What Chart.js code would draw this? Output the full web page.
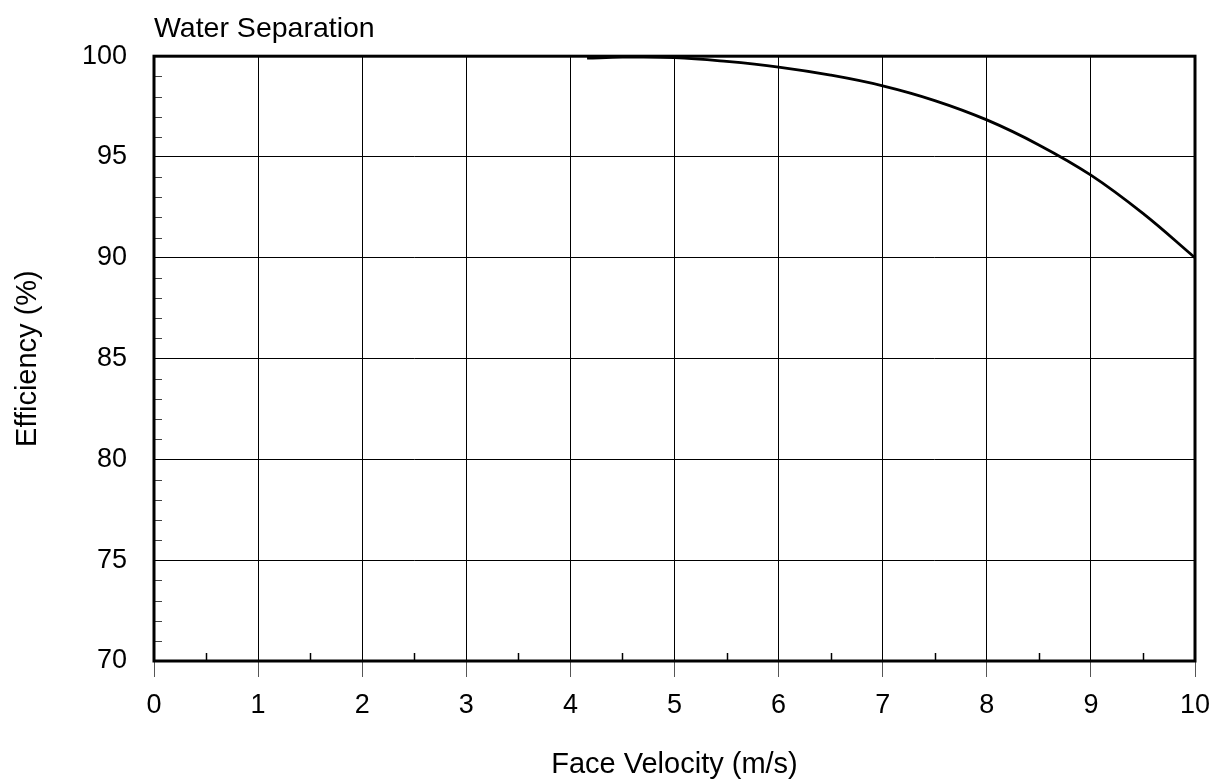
<!DOCTYPE html>
<html>
<head>
<meta charset="utf-8">
<script src="https://cdn.jsdelivr.net/npm/chart.js@4.4.1/dist/chart.umd.min.js"></script>
<style>
  html, body { margin: 0; padding: 0; background: #fff; }
  #wrap { width: 1216px; height: 783px; }
</style>
</head>
<body>
<div id="wrap"><canvas id="grafica" width="1216" height="783"></canvas></div>
<script>
// datos
const velocidad = [4.16, 4.5, 5, 5.5, 6, 6.5, 7, 7.5, 8, 8.5, 9, 9.5, 10];
const eficiencia = [99.9, 99.95, 99.93, 99.74, 99.46, 99.06, 98.53, 97.8, 96.84, 95.6, 94.1, 92.2, 90.0];
const xTicks = [0, 1, 2, 3, 4, 5, 6, 7, 8, 9, 10];
const yTicks = [70, 75, 80, 85, 90, 95, 100];
const xMinor = [0.5, 1.5, 2.5, 3.5, 4.5, 5.5, 6.5, 7.5, 8.5, 9.5];
const yMinor = [71, 72, 73, 74, 76, 77, 78, 79, 81, 82, 83, 84, 86, 87, 88, 89, 91, 92, 93, 94, 96, 97, 98, 99];

const fuente = "'Liberation Sans', Arial, sans-serif";

// marco grueso y las rayitas chicas
const marcoPlugin = {
    id: 'marco',
    afterDraw(chart) {
        const ctx = chart.ctx;
        const a = chart.chartArea;
        const sx = chart.scales.x;
        const sy = chart.scales.y;
        ctx.save();
        ctx.strokeStyle = '#000';
        ctx.lineWidth = 1.5;
        xMinor.forEach(v => {
            const px = Math.round(sx.getPixelForValue(v)) + 0.5;
            ctx.beginPath();
            ctx.moveTo(px, a.bottom);
            ctx.lineTo(px, a.bottom - 8);
            ctx.stroke();
        });
        ctx.lineWidth = 1;
        ctx.strokeStyle = '#444';
        yMinor.forEach(v => {
            const py = Math.round(sy.getPixelForValue(v)) + 0.5;
            ctx.beginPath();
            ctx.moveTo(a.left, py);
            ctx.lineTo(a.left + 8, py);
            ctx.stroke();
        });
        ctx.strokeStyle = '#000';
        ctx.lineWidth = 3;
        ctx.strokeRect(a.left, a.top, a.right - a.left, a.bottom - a.top);
        ctx.restore();
    }
};

const grafica = new Chart(document.getElementById('grafica').getContext('2d'), {
    type: 'line',
    data: {
        datasets: [{
            data: velocidad.map((v, i) => ({ x: v, y: eficiencia[i] })),
            borderColor: '#000',
            borderWidth: 2.8,
            pointRadius: 0,
            tension: 0.4,
            fill: false
        }]
    },
    options: {
        responsive: false,
        animation: false,
        layout: { padding: { left: 0, right: 21, top: 0, bottom: 0 } },
        plugins: {
            legend: { display: false },
            tooltip: { enabled: false },
            title: {
                display: true,
                text: 'Water Separation',
                align: 'start',
                fullSize: false,
                color: '#000',
                font: { family: fuente, size: 28.5, weight: 'normal' },
                padding: { top: 12, bottom: 10 }
            }
        },
        scales: {
            x: {
                type: 'linear',
                min: 0,
                max: 10,
                afterBuildTicks: s => { s.ticks = xTicks.map(v => ({ value: v })); },
                afterFit: s => { s.height = 122; s.paddingLeft = 0; s.paddingRight = 0; },
                grid: { color: '#000', lineWidth: 1, drawTicks: true, tickLength: 16, tickColor: '#555' },
                border: { display: false },
                ticks: { color: '#000', padding: 12, maxRotation: 0, font: { family: fuente, size: 27 } },
                title: {
                    display: true,
                    text: 'Face Velocity (m/s)',
                    color: '#000',
                    font: { family: fuente, size: 29 },
                    padding: { top: 0, bottom: 1 }
                }
            },
            y: {
                type: 'linear',
                min: 70,
                max: 100,
                afterBuildTicks: s => { s.ticks = yTicks.map(v => ({ value: v })); },
                afterFit: s => { s.width = 154; },
                grid: { color: '#000', lineWidth: 1, drawTicks: false },
                border: { display: false },
                ticks: { color: '#000', padding: 27, font: { family: fuente, size: 27 } },
                title: {
                    display: true,
                    text: 'Efficiency (%)',
                    color: '#000',
                    font: { family: fuente, size: 29 },
                    padding: { top: 11, bottom: 0 }
                }
            }
        }
    },
    plugins: [marcoPlugin]
});
</script>
</body>
</html>
